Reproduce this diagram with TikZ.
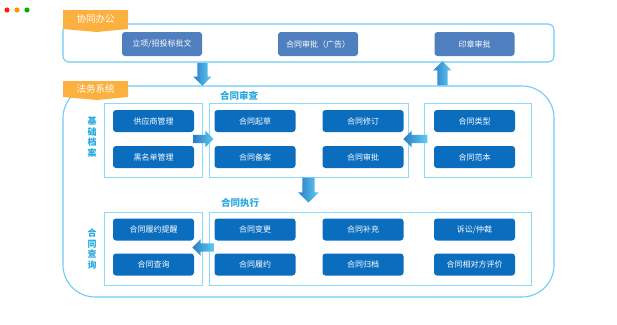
\documentclass[tikz,border=0pt]{standalone}
\usepackage{fontspec}
\setmainfont{Noto Sans CJK SC}
\usepackage{tikz}
\usetikzlibrary{shapes.arrows, calc}
\usepackage{xcolor}
\definecolor{tagcolor}{HTML}{FBB040}
\definecolor{panelline}{HTML}{6DCDF4}
\definecolor{frameline}{HTML}{8DD9F8}
\definecolor{topboxcolor}{HTML}{4F7FBE}
\definecolor{boxcolor}{HTML}{0B6DBE}
\definecolor{titlecolor}{HTML}{27A9E1}
\definecolor{arrowdark}{HTML}{2A7DC6}
\definecolor{arrowlight}{HTML}{62CBF2}

\begin{document}
\begin{tikzpicture}[
    x=1pt, y=-1pt,
    panel/.style={draw=panelline, line width=1.1pt, inner sep=0pt},
    frame/.style={draw=frameline, line width=0.8pt, inner sep=0pt},
    box/.style={rounded corners=3pt, minimum width=81pt, minimum height=22pt, inner sep=0pt, fill=boxcolor, text=white, font=\fontsize{8}{9}\selectfont},
    topbox/.style={box, fill=topboxcolor, minimum width=80pt, minimum height=24pt},
    tagtext/.style={text=white, font=\fontsize{9.5}{10}\selectfont},
    title/.style={text=titlecolor, font=\fontsize{9.5}{10}\selectfont\bfseries},
    sidelabel/.style={text=titlecolor, align=center, font=\fontsize{9}{10.5}\selectfont\bfseries},
    fatarrow/.style 2 args={single arrow, inner xsep=0pt, inner ysep=#2, minimum height=#1, single arrow head extend=4pt, left color=arrowdark, right color=arrowlight},
]
\useasboundingbox (0,0) rectangle (617,324);

% window buttons
\fill[red!75!orange] (7,10) circle (2.6);
\fill[orange!85!yellow] (17,10) circle (2.6);
\fill[green!70!black] (27,10) circle (2.6);

% Panels
\node[panel, rounded corners=6pt, minimum width=491pt, minimum height=38pt] (office) at (308.5,43) {};
\node[panel, rounded corners=32pt, minimum width=491pt, minimum height=211pt] (legal) at (308.5,191.5) {};

% Tags
\fill[tagcolor] (63,10) -- (128,10) -- (128,29) -- (97,32) -- (63,29) -- cycle;
\node[tagtext] (tagoffice) at (95.5,19) {协同办公};
\fill[tagcolor] (63,81) -- (128,81) -- (128,97) -- (97,100) -- (63,97) -- cycle;
\node[tagtext] (taglegal) at (95.5,89) {法务系统};

% Office boxes
\node[topbox] (approval) at (162,44) {立项/招投标批文};
\node[topbox] (adreview) at (318,44) {合同审批（广告）};
\node[topbox] (seal) at (474.5,44) {印章审批};

% Frames
\node[frame, minimum width=98pt, minimum height=74pt] (fbase) at (153,140) {};
\node[frame, minimum width=199pt, minimum height=74pt] (freview) at (308.5,140) {};
\node[frame, minimum width=107pt, minimum height=74pt] (ftemplate) at (477.5,140) {};
\node[frame, minimum width=98pt, minimum height=73pt] (fquery) at (153,248.5) {};
\node[frame, minimum width=322pt, minimum height=73pt] (fexec) at (370,248.5) {};

% Titles and side labels
\node[title] (treview) at (239,96) {合同审查};
\node[title] (texec) at (240,203) {合同执行};
\node[sidelabel] (lbase) at (92,137) {基\\础\\档\\案};
\node[sidelabel] (lquery) at (92,249) {合\\同\\查\\询};

% Base records
\node[box] (supplier) at (153.5,121) {供应商管理};
\node[box] (blacklist) at (153.5,157) {黑名单管理};

% Contract review
\node[box] (draft) at (255,121) {合同起草};
\node[box] (filing) at (255,157) {合同备案};
\node[box] (revise) at (363,121) {合同修订};
\node[box] (approve) at (363,157) {合同审批};

% Templates
\node[box] (ctype) at (474.5,121) {合同类型};
\node[box] (ctemplate) at (474.5,157) {合同范本};

% Query
\node[box] (remind) at (153.5,229.5) {合同履约提醒};
\node[box] (query) at (153.5,264.5) {合同查询};

% Execution
\node[box] (change) at (255,229.5) {合同变更};
\node[box] (perform) at (255,264.5) {合同履约};
\node[box] (supplement) at (363,229.5) {合同补充};
\node[box] (archive) at (363,264.5) {合同归档};
\node[box] (lawsuit) at (474.5,229.5) {诉讼/仲裁};
\node[box] (rating) at (474.5,264.5) {合同相对方评价};

% Flow arrows
\node[fatarrow={23pt}{5pt}, rotate=-90, anchor=tail] (a1) at ($(office.south west)+(140,0)$) {};
\node[fatarrow={24pt}{5pt}, rotate=90, anchor=tail] (a2) at ($(legal.north west)+(380,0)$) {};
\node[fatarrow={20pt}{4pt}, anchor=tail] (a3) at ($(fbase.east)+(-9,-1)$) {};
\node[fatarrow={24pt}{4pt}, rotate=180, anchor=tail] (a4) at ($(ftemplate.west)+(4,-1)$) {};
\node[fatarrow={25pt}{6pt}, rotate=-90, anchor=tail] (a5) at (freview.south) {};
\node[fatarrow={22pt}{4pt}, rotate=180, anchor=tail] (a6) at ($(fexec.west)+(6,-1)$) {};

\end{tikzpicture}
\end{document}
